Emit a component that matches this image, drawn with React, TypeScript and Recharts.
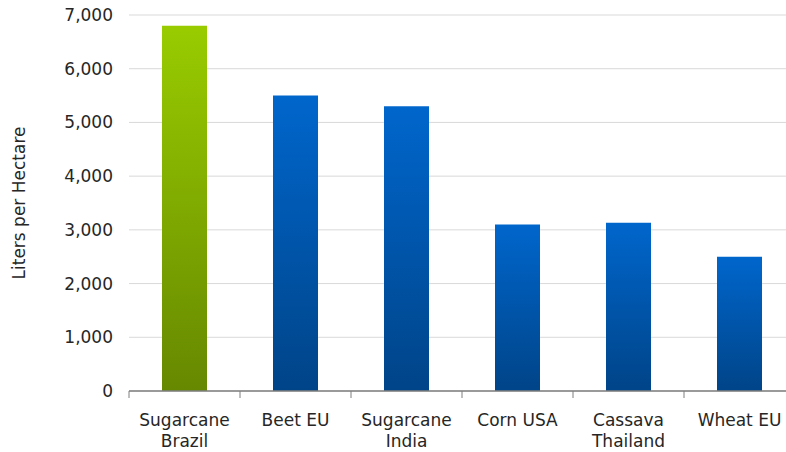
import { BarChart, Bar, Cell, XAxis, YAxis, CartesianGrid } from 'recharts';

const categories = [
  'Sugarcane\nBrazil',
  'Beet EU',
  'Sugarcane\nIndia',
  'Corn USA',
  'Cassava\nThailand',
  'Wheat EU',
];

const litersPerHectare = [6800, 5500, 5300, 3100, 3130, 2500];

const yTicks = [0, 1000, 2000, 3000, 4000, 5000, 6000, 7000];

const data = categories.map((name, i) => ({ name, value: litersPerHectare[i] }));

const FONT = '"DejaVu Sans", Verdana, sans-serif';
const TEXT = '#262626';
const AXIS = '#7f7f7f';

// category label split over two lines, plus a small tick on the left edge of its band
const CategoryTick = (props: any) => {
  const { x, y, payload } = props;
  const lines = String(payload.value).split('\n');
  const half = payload.offset || 0;
  return (
    <g>
      <line x1={x - half} x2={x - half} y1={y} y2={y + 7} stroke={AXIS} strokeWidth={1} />
      <text x={x} y={y} textAnchor="middle" fill={TEXT} fontFamily={FONT} fontSize={17}>
        {lines.map((line, i) => (
          <tspan key={i} x={x} y={y + 35 + i * 21}>
            {line}
          </tspan>
        ))}
      </text>
    </g>
  );
};

export default function App() {
  return (
    <div style={{ position: 'fixed', top: 0, left: 0, width: 786, height: 452, overflow: 'hidden', background: '#fff' }}>
      <BarChart
        width={800}
        height={452}
        data={data}
        margin={{ top: 15, right: 5, bottom: 0, left: 0 }}
      >
        <defs>
          <linearGradient id="greenBar" x1="0" y1="0" x2="0" y2="1">
            <stop offset="0%" stopColor="#99cc00" />
            <stop offset="100%" stopColor="#668800" />
          </linearGradient>
          <linearGradient id="blueBar" x1="0" y1="0" x2="0" y2="1">
            <stop offset="0%" stopColor="#0066cc" />
            <stop offset="100%" stopColor="#004488" />
          </linearGradient>
        </defs>
        <CartesianGrid vertical={false} stroke="#d9d9d9" strokeWidth={1} />
        <XAxis
          dataKey="name"
          height={61}
          interval={0}
          axisLine={{ stroke: AXIS, strokeWidth: 1.5 }}
          tickLine={false}
          tickSize={0}
          tickMargin={0}
          tick={<CategoryTick />}
        />
        <YAxis
          width={129}
          domain={[0, 7000]}
          ticks={yTicks}
          axisLine={false}
          tickLine={false}
          tickSize={0}
          tickMargin={16}
          tickFormatter={(v: number) => v.toLocaleString('en-US')}
          tick={{ fill: TEXT, fontFamily: FONT, fontSize: 17 }}
          label={{
            value: 'Liters per Hectare',
            angle: -90,
            position: 'insideLeft',
            offset: 19,
            style: { textAnchor: 'middle', fill: TEXT, fontFamily: FONT, fontSize: 17 },
          }}
        />
        <Bar dataKey="value" barSize={45} isAnimationActive={false}>
          {data.map((entry, index) => (
            <Cell key={`cell-${index}`} fill={index === 0 ? 'url(#greenBar)' : 'url(#blueBar)'} />
          ))}
        </Bar>
      </BarChart>
    </div>
  );
}
